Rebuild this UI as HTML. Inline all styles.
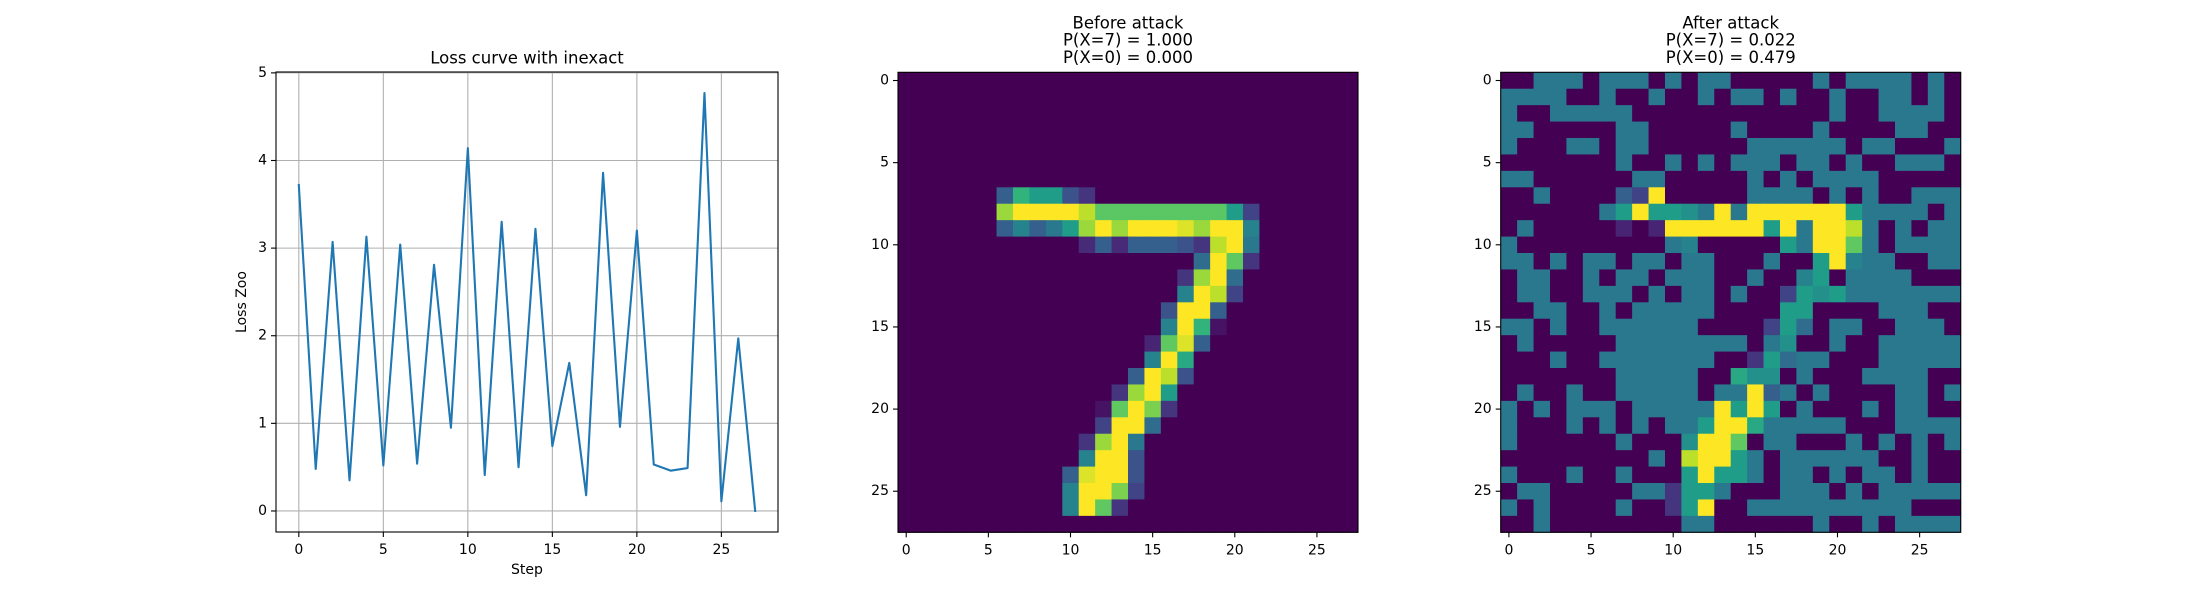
<!DOCTYPE html>
<html><head><meta charset="utf-8">
<style>
html,body{margin:0;padding:0;background:#fff;}
svg{display:block;font-family:"DejaVu Sans","Liberation Sans",sans-serif;}
</style></head>
<body>
<svg id="fig" width="2200" height="596" viewBox="0 0 2200 596" xmlns="http://www.w3.org/2000/svg">
<rect width="2200" height="596" fill="#fff"/>
<g id="loss"></g>
<g id="before"></g>
<g id="after"></g>
</svg>
<script>
// ---- Loss chart data ----
const lossSteps = [0,1,2,3,4,5,6,7,8,9,10,11,12,13,14,15,16,17,18,19,20,21,22,23,24,25,26,27];
const lossValues = [3.72,0.48,3.07,0.35,3.13,0.52,3.04,0.54,2.81,0.95,4.14,0.41,3.30,0.50,3.22,0.74,1.69,0.18,3.86,0.96,3.20,0.53,0.46,0.49,4.77,0.11,1.97,0.0];
const lossXTicks = [0,5,10,15,20,25];
const lossYTicks = [0,1,2,3,4,5];

// ---- Before attack (sparse: [row, col, value]) ----
const beforeCells = [
[7,6,.3],[7,7,.65],[7,8,.55],[7,9,.55],[7,10,.25],[7,11,.15],
[8,6,.85],[8,7,1],[8,8,1],[8,9,1],[8,10,1],[8,11,.9],[8,12,.74],[8,13,.74],[8,14,.74],[8,15,.74],[8,16,.74],[8,17,.74],[8,18,.74],[8,19,.74],[8,20,.55],[8,21,.2],
[9,6,.3],[9,7,.45],[9,8,.3],[9,9,.4],[9,10,.55],[9,11,.85],[9,12,1],[9,13,.85],[9,14,1],[9,15,1],[9,16,1],[9,17,.95],[9,18,.85],[9,19,1],[9,20,1],[9,21,.45],
[10,11,.12],[10,12,.3],[10,13,.12],[10,14,.3],[10,15,.3],[10,16,.3],[10,17,.25],[10,18,.15],[10,19,.9],[10,20,1],[10,21,.4],
[11,18,.35],[11,19,1],[11,20,.75],[11,21,.15],
[12,17,.15],[12,18,.85],[12,19,1],[12,20,.35],
[13,17,.45],[13,18,1],[13,19,.9],[13,20,.2],
[14,16,.25],[14,17,1],[14,18,1],[14,19,.3],
[15,16,.45],[15,17,1],[15,18,.65],[15,19,.05],
[16,15,.1],[16,16,.75],[16,17,.95],[16,18,.3],
[17,15,.45],[17,16,1],[17,17,.6],
[18,14,.3],[18,15,1],[18,16,.9],[18,17,.25],
[19,13,.15],[19,14,.85],[19,15,1],[19,16,.55],
[20,12,.05],[20,13,.75],[20,14,1],[20,15,.8],[20,16,.15],
[21,12,.2],[21,13,1],[21,14,1],[21,15,.35],
[22,11,.15],[22,12,.85],[22,13,1],[22,14,.4],
[23,11,.45],[23,12,1],[23,13,1],[23,14,.25],
[24,10,.3],[24,11,.95],[24,12,1],[24,13,1],[24,14,.25],
[25,10,.45],[25,11,1],[25,12,1],[25,13,.8],[25,14,.2],
[26,10,.45],[26,11,1],[26,12,.75],[26,13,.15]
];

// ---- After attack (rows; T = 0.4) ----
const T = 0.4;
const afterRows = [
[0,0,T,T,T,0,T,T,T,0,T,0,T,T,0,0,0,0,0,T,0,T,T,T,T,0,T,0],
[T,T,T,T,0,0,T,0,0,T,0,0,T,0,T,T,0,T,0,0,T,0,0,T,T,0,T,0],
[T,0,0,T,T,T,T,T,0,0,0,0,0,0,0,0,0,0,0,0,T,0,0,T,T,T,T,0],
[T,T,0,0,0,0,0,T,T,0,0,0,0,0,T,0,0,0,0,T,0,0,0,0,T,T,0,0],
[T,0,0,0,T,T,0,T,T,0,0,0,0,0,0,T,T,T,T,T,T,0,T,T,0,0,0,T],
[0,0,0,0,0,0,0,T,0,0,T,0,T,0,T,T,T,0,T,T,0,T,0,0,T,T,T,0],
[T,T,0,0,0,0,0,0,T,T,0,0,0,0,0,T,0,T,0,T,T,T,T,0,0,0,0,0],
[0,0,T,0,0,0,0,.3,.2,1,0,0,0,0,0,T,T,T,T,0,T,0,T,0,0,T,T,T],
[0,0,0,0,0,0,T,.55,1,.55,.55,.5,T,1,T,1,1,1,1,1,1,.55,T,T,T,T,0,T],
[0,T,0,0,0,0,0,.1,0,.1,1,1,1,1,1,1,.55,1,T,1,1,.9,T,0,T,0,T,T],
[T,0,0,0,0,0,0,0,0,0,T,.45,0,0,0,0,0,.55,T,1,1,.75,T,0,T,T,T,T],
[T,T,0,T,0,T,T,0,T,T,0,T,T,0,0,0,T,0,0,.55,1,.45,T,T,0,0,T,T],
[0,T,T,0,0,T,0,T,T,0,T,T,T,0,0,T,0,0,.45,.55,0,T,T,T,T,0,0,0],
[0,T,T,0,0,T,T,T,0,T,0,T,T,0,T,0,0,.2,.55,.5,.55,T,T,T,T,T,T,T],
[0,0,T,T,0,0,T,0,T,T,T,T,T,0,0,0,0,.55,.55,0,0,0,0,T,T,T,0,0],
[T,T,0,T,0,0,T,T,T,T,T,T,0,0,0,0,.2,.55,.35,0,T,T,0,0,T,T,T,0],
[0,T,0,0,0,0,0,T,T,T,T,T,T,T,T,0,T,.5,0,0,T,0,0,T,T,T,T,T],
[0,0,0,T,0,0,T,T,T,T,T,T,T,0,0,.15,.55,.35,T,T,0,0,0,T,T,T,T,T],
[0,0,0,0,0,0,0,T,T,T,T,T,0,0,.6,.5,.5,0,T,0,0,0,T,T,T,T,0,0],
[0,T,0,0,T,0,0,T,T,T,T,T,0,T,T,1,.3,T,0,T,0,0,0,0,T,T,0,T],
[T,0,T,0,T,T,T,0,T,T,T,T,T,1,.55,1,.55,0,T,0,0,0,T,0,T,T,0,0],
[T,0,0,0,T,0,T,0,T,0,T,T,.55,1,1,.6,T,T,T,T,T,0,0,0,T,T,T,T],
[T,0,0,0,0,0,0,T,0,0,0,.5,1,1,.75,0,T,T,0,0,0,T,0,T,0,T,0,T],
[0,0,0,0,0,0,0,0,0,T,0,.9,1,1,.55,T,0,T,T,T,T,T,T,0,0,T,0,0],
[T,0,0,0,T,0,0,T,0,0,0,.55,1,.55,.55,T,0,T,T,0,T,0,T,T,0,T,0,0],
[0,T,T,0,0,0,0,0,T,T,.15,.55,.55,T,0,0,0,T,T,T,0,T,0,T,T,T,T,T],
[T,0,T,0,0,0,0,T,0,0,.15,.55,1,0,0,T,T,T,T,T,T,T,T,T,T,0,0,0],
[0,0,T,0,0,0,0,0,0,0,0,T,T,0,0,0,0,0,0,T,0,0,T,0,T,T,T,T]
];
const imgTicks = [0,5,10,15,20,25];

const NS = "http://www.w3.org/2000/svg";
function mk(tag, attrs, parent){const e=document.createElementNS(NS,tag);for(const k in attrs)e.setAttribute(k,attrs[k]);parent.appendChild(e);return e;}
function txt(parent,x,y,s,opts){const e=mk('text',Object.assign({x:x,y:y,'font-size':14,fill:'#000','dominant-baseline':'central'},opts||{}),parent);e.textContent=s;return e;}

// viridis
const VIR=[[68,1,84],[72,40,120],[62,74,137],[49,104,142],[38,130,142],[31,158,137],[53,183,121],[109,205,89],[180,222,44],[253,231,37]];
function viridis(t){t=Math.max(0,Math.min(1,t));const p=t*9,i=Math.min(8,Math.floor(p)),f=p-i;const a=VIR[i],b=VIR[i+1];return 'rgb('+a.map((v,k)=>Math.round(v+(b[k]-v)*f)).join(',')+')';}

// ---- Loss chart ----
(function(){
  const g=document.getElementById('loss');
  const L=276,R=778,Tp=72,B=532;
  const xmin=-1.35,xmax=28.35,ymin=-0.24,ymax=5.01;
  const sx=v=>L+(v-xmin)/(xmax-xmin)*(R-L);
  const sy=v=>B-(v-ymin)/(ymax-ymin)*(B-Tp);
  lossXTicks.forEach(v=>{
    const gl=mk('line',{x1:sx(v),x2:sx(v),y1:Tp,y2:B,stroke:'#b0b0b0','stroke-width':1.1},g);
    
    
    mk('line',{x1:sx(v),x2:sx(v),y1:B,y2:B+5,stroke:'#000','stroke-width':1.1},g);
    const t=txt(g,sx(v),B+18,String(v),{'text-anchor':'middle'});
    
    
  });
  lossYTicks.forEach(v=>{
    const gl=mk('line',{x1:L,x2:R,y1:sy(v),y2:sy(v),stroke:'#b0b0b0','stroke-width':1.1},g);
    
    
    mk('line',{x1:L-5,x2:L,y1:sy(v),y2:sy(v),stroke:'#000','stroke-width':1.1},g);
    const t=txt(g,L-9,sy(v),String(v),{'text-anchor':'end'});
    
    
  });
  const pts=lossSteps.map((s,i)=>sx(s).toFixed(2)+','+sy(lossValues[i]).toFixed(2)).join(' ');
  const ln=mk('polyline',{points:pts,fill:'none',stroke:'#1f77b4','stroke-width':2.1,'stroke-linejoin':'round','stroke-linecap':'square'},g);
  
  
  const fr=mk('rect',{x:L,y:Tp,width:R-L,height:B-Tp,fill:'none',stroke:'#000','stroke-width':1.1},g);
  
  
  const tt=txt(g,(L+R)/2,58,'Loss curve with inexact',{'text-anchor':'middle','font-size':16.5});
  
  
  const xl=txt(g,(L+R)/2,570,'Step',{'text-anchor':'middle'});
  
  
  const yl=txt(g,0,0,'Loss Zoo',{'text-anchor':'middle',transform:'translate(242,'+((Tp+B)/2)+') rotate(-90)'});
  
  
})();

// ---- heatmaps ----
function heatmap(id,L,grid,titles){
  const g=document.getElementById(id);
  const Tp=72.3,S=460,n=28,c=S/n;
  const sx=v=>L+(v+0.5)*c, sy=v=>Tp+(v+0.5)*c;
  for(let r=0;r<n;r++)for(let k=0;k<n;k++){
    const cell=mk('rect',{x:(L+k*c).toFixed(2),y:(Tp+r*c).toFixed(2),width:(c+0.4).toFixed(2),height:(c+0.4).toFixed(2),fill:viridis(grid[r][k])},g);
    
    
  }
  mk('rect',{x:L,y:Tp,width:S,height:S,fill:'none',stroke:'#000','stroke-width':1.1},g);
  imgTicks.forEach(v=>{
    mk('line',{x1:sx(v),x2:sx(v),y1:Tp+S,y2:Tp+S+5,stroke:'#000','stroke-width':1.1},g);
    const t=txt(g,sx(v),Tp+S+18,String(v),{'text-anchor':'middle'});
    
    
    mk('line',{x1:L-5,x2:L,y1:sy(v),y2:sy(v),stroke:'#000','stroke-width':1.1},g);
    const t2=txt(g,L-9,sy(v),String(v),{'text-anchor':'end'});
    
    
  });
  titles.forEach((s,i)=>{
    const t=txt(g,L+S/2,23+i*17.2,s,{'text-anchor':'middle','font-size':16.5});
    
    
  });
}
const beforeGrid=[];for(let r=0;r<28;r++){beforeGrid.push(new Array(28).fill(0));}
beforeCells.forEach(([r,k,v])=>{beforeGrid[r][k]=v;});
heatmap('before',898,beforeGrid,['Before attack','P(X=7) = 1.000','P(X=0) = 0.000']);
heatmap('after',1500.7,afterRows,['After attack','P(X=7) = 0.022','P(X=0) = 0.479']);
</script>
</body></html>
